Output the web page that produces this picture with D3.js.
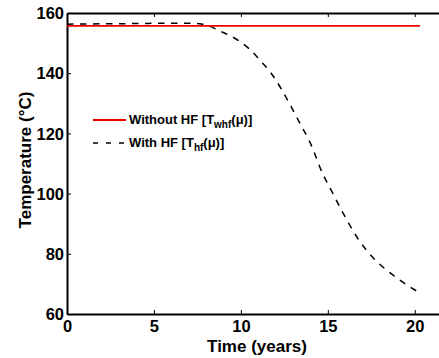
<!DOCTYPE html>
<html><head><meta charset="utf-8">
<script src="https://cdn.jsdelivr.net/npm/d3@7"></script>
<style>body{margin:0;background:#fff}svg{display:block}text{font-family:"Liberation Sans",Arial,sans-serif;font-weight:bold}</style>
</head><body><svg id="c" width="439" height="358"></svg>
<script>
const xTicks=[0,5,10,15,20];
const yTicks=[60,80,100,120,140,160];
const withoutT=[0,20.3];
const withoutV=[155.7,155.7];
const withT=[0,2,4,6,7,7.8,8.8,10,10.55,11.1,11.7,12.3,12.85,13.4,14,14.75,15.05,15.9,16.7,17.6,18.8,20.2];
const withV=[156.3,156.4,156.5,156.6,156.6,156.3,154,150.3,147.7,144.3,140.3,135,129.3,123.3,116.7,106,102.7,93.3,85.3,78.7,72.7,67.3];

const svg=d3.select("#c");
const L=67,T=13,B=314,R=440;
const x=d3.scaleLinear().domain([0,21.45]).range([L,R]);
const y=d3.scaleLinear().domain([60,160]).range([B,T]);

const xb=d3.axisBottom(x).tickValues(xTicks).tickSizeInner(-4).tickSizeOuter(0).tickPadding(0);
const gx=svg.append("g").attr("transform",`translate(0,${B})`).call(xb);
const xt=d3.axisTop(x).tickValues(xTicks).tickSizeInner(-4).tickSizeOuter(0).tickFormat("");
const gxt=svg.append("g").attr("transform",`translate(0,${T})`).call(xt);
const yl=d3.axisLeft(y).tickValues(yTicks).tickSizeInner(-4).tickSizeOuter(0).tickPadding(3);
const gy=svg.append("g").attr("transform",`translate(${L},0)`).call(yl);
[gx,gxt,gy].forEach(g=>{g.select(".domain").attr("stroke","#000").attr("stroke-width",2);
 g.selectAll(".tick line").attr("stroke","#000").attr("stroke-width",1);
 g.selectAll("text").attr("font-size",16.5).attr("fill","#000").attr("font-family","Liberation Sans, Arial, sans-serif").attr("font-weight","bold");});
gx.selectAll(".tick text").attr("y",18).attr("dy",0);
gy.selectAll(".tick text").attr("dy","0.35em");

const line=d3.line().x(d=>x(d[0])).y(d=>y(d[1])).curve(d3.curveMonotoneX);
svg.append("path").datum(withT.map((t,i)=>[t,withV[i]])).attr("d",line)
 .attr("fill","none").attr("stroke","#000").attr("stroke-width",1.5).attr("stroke-dasharray","6.5,6.5");
svg.append("path").datum(withoutT.map((t,i)=>[t,withoutV[i]])).attr("d",line)
 .attr("fill","none").attr("stroke","#ee0000").attr("stroke-width",1.8);

const lg=svg.append("g");
lg.append("line").attr("x1",93).attr("x2",126).attr("y1",120).attr("y2",120).attr("stroke","#ee0000").attr("stroke-width",1.8);
lg.append("line").attr("x1",93).attr("x2",126).attr("y1",143).attr("y2",143).attr("stroke","#000").attr("stroke-width",1.5).attr("stroke-dasharray","5,8");
const t1=lg.append("text").attr("x",129).attr("y",124).attr("font-size",13);
t1.append("tspan").text("Without HF [T");
t1.append("tspan").text("whf").attr("font-size",10).attr("dy",4);
t1.append("tspan").text("(μ)]").attr("dy",-4);
const t2=lg.append("text").attr("x",129).attr("y",147).attr("font-size",13);
t2.append("tspan").text("With HF [T");
t2.append("tspan").text("hf").attr("font-size",10).attr("dy",4);
t2.append("tspan").text("(μ)]").attr("dy",-4);

svg.append("text").attr("x",257).attr("y",352).attr("text-anchor","middle").attr("font-size",17).text("Time (years)");
svg.append("text").attr("transform","translate(31,160) rotate(-90)").attr("text-anchor","middle").attr("font-size",17).text("Temperature (°C)");
</script></body></html>
